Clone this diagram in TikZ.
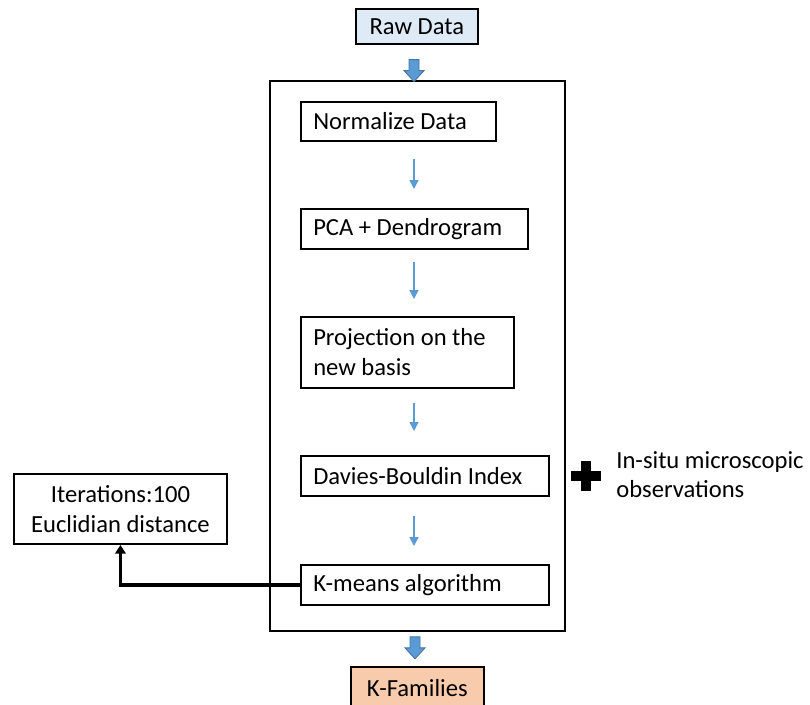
\documentclass[tikz,border=0pt]{standalone}
\usepackage{fontspec}
\setmainfont{Carlito}
\usepackage{tikz}
\usetikzlibrary{arrows.meta,calc,positioning}
\definecolor{flowblue}{HTML}{5B9BD5}
\definecolor{rawfill}{HTML}{DEEBF7}
\definecolor{famfill}{HTML}{F8CBAD}
\tikzset{
  stepbox/.style={draw,line width=1.1pt,anchor=north west,align=flush left,inner xsep=7pt,font=\fontsize{14}{17}\selectfont},
  endbox/.style={draw,line width=0.9pt,anchor=north west,align=center,font=\fontsize{14}{17}\selectfont},
  flowarrow/.style={flowblue,line width=0.8pt,-{Triangle[length=5pt,width=5pt]}},
  linkarrow/.style={line width=1.8pt,-{Triangle[length=5pt,width=6pt]}},
  pics/downarrow/.style={code={
    \draw[fill=flowblue,draw=flowblue!75!black,line width=0.5pt]
      (-5,0) -- (5,0) -- (5,11) -- (10,11) -- (0,22) -- (-10,11) -- (-5,11) -- cycle;}}
}
\begin{document}
\begin{tikzpicture}[x=0.02cm,y=-0.02cm]
\useasboundingbox (0,0) rectangle (810,704);
\coordinate (axis) at (414,0);
% outer frame
\node[draw,line width=1.1pt,anchor=north west,minimum width=5.9cm,minimum height=11cm] (frame) at (269,80) {};
\node[endbox,fill=rawfill,minimum width=2.44cm,minimum height=0.7cm] (raw) at (355,8) {Raw Data};
\node[stepbox,text width=3.41cm,minimum height=0.78cm] (norm) at (300,101) {Normalize Data};
\node[stepbox,text width=4.05cm,minimum height=0.8cm] (pca) at (300,208) {PCA + Dendrogram};
\node[stepbox,text width=3.77cm,minimum height=1.42cm] (proj) at (300,316) {Projection on the\\new basis};
\node[stepbox,text width=4.47cm,minimum height=0.8cm] (db) at (300,455) {Davies-Bouldin Index};
\node[stepbox,text width=4.47cm,minimum height=0.8cm] (kmeans) at (300,564) {K-means algorithm};
\node[endbox,line width=1.1pt,minimum width=4.26cm,minimum height=1.4cm] (iter) at (13,473) {Iterations:100\\Euclidian distance};
\node[endbox,fill=famfill,minimum width=2.66cm,minimum height=0.84cm] (kfam) at (350,666) {K-Families};
\node[anchor=base west,align=left,inner sep=0pt,font=\fontsize{14}{16}\selectfont] (insitu) at (616,497) {In-situ microscopic\\observations};
% plus sign
\fill (571,471) rectangle (601,481);
\fill (581,461) rectangle (591,491);
% flow
\pic at ($(axis |- raw.south)+(0,15)$) {downarrow};
\pic at ($(axis |- frame.south)+(1,5)$) {downarrow};
\draw[flowarrow,shorten <=17*0.02cm,shorten >=19*0.02cm] (axis |- norm.south) -- (axis |- pca.north);
\draw[flowarrow,shorten <=12*0.02cm,shorten >=17*0.02cm] (axis |- pca.south) -- (axis |- proj.north);
\draw[flowarrow,shorten <=14*0.02cm,shorten >=24*0.02cm] (axis |- proj.south) -- (axis |- db.north);
\draw[flowarrow,shorten <=19*0.02cm,shorten >=18*0.02cm] (axis |- db.south) -- (axis |- kmeans.north);
\draw[linkarrow] (kmeans.west) -| (iter.south);
\end{tikzpicture}
\end{document}
